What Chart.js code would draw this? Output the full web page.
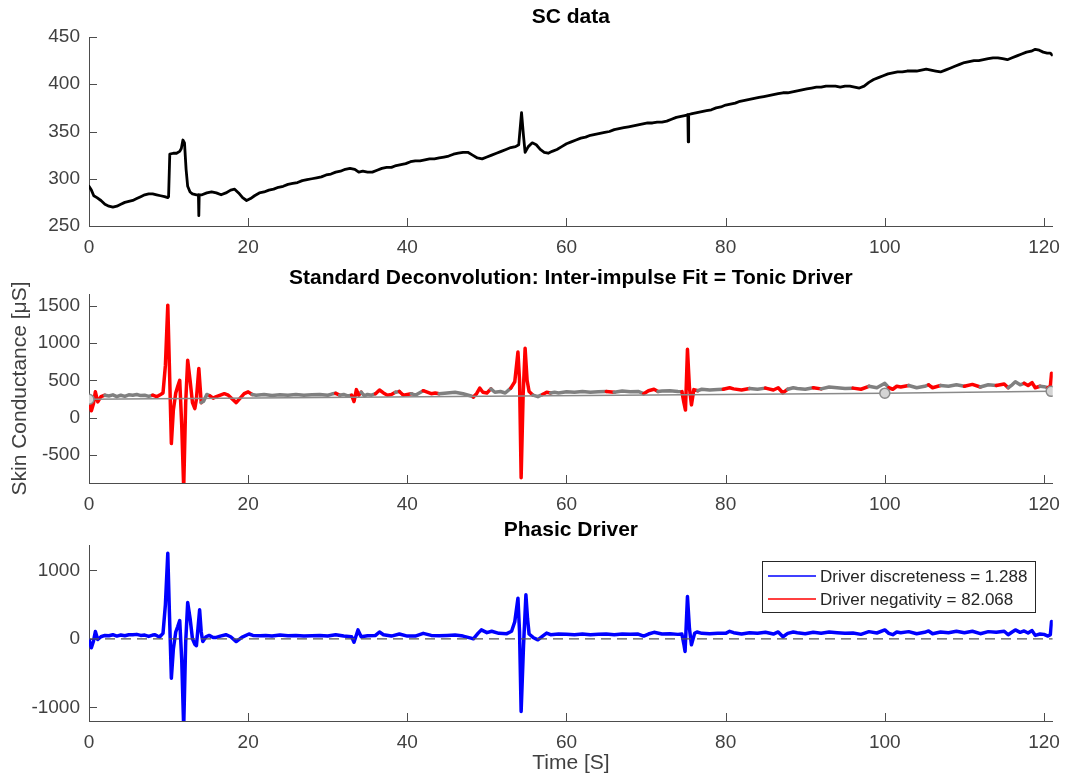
<!DOCTYPE html>
<html>
<head>
<meta charset="utf-8">
<script src="https://cdn.jsdelivr.net/npm/chart.js@4.4.1/dist/chart.umd.min.js"></script>
<style>
  body { margin: 0; background: #fff; }
  canvas { position: absolute; left: 0; }
</style>
</head>
<body>
<canvas id="scChart" width="1070" height="262" style="top:0"></canvas>
<canvas id="tonicChart" width="1070" height="250" style="top:262px"></canvas>
<canvas id="phasicChart" width="1070" height="264" style="top:512px"></canvas>
<script>
// ---- data ----
var timeTicks = [0, 20, 40, 60, 80, 100, 120];
var timeMax = 121.1;

// SC data (top panel)
var scTicks = [250, 300, 350, 400, 450];
var scTime = [
  0, 0.3, 0.6, 1.0, 1.5, 2.0, 2.5, 3.0, 3.5, 4.0,
  4.5, 5.0, 5.5, 6.0, 6.5, 7.0, 7.5, 8.0, 8.5, 9.0,
  9.5, 9.9, 10.0, 10.15, 10.6, 11.0, 11.4, 11.6, 11.8, 12.0,
  12.2, 12.4, 12.7, 13.0, 13.5, 13.75, 13.8, 13.85, 14.2, 14.8,
  15.4, 16.0, 16.6, 17.2, 17.8, 18.3, 18.8, 19.3, 19.8, 20.3,
  20.8, 21.4, 22.0, 22.6, 23.2, 23.8, 24.4, 25.0, 25.6, 26.2,
  26.8, 27.4, 28.0, 28.6, 29.2, 29.8, 30.4, 31.0, 31.6, 32.2,
  32.8, 33.4, 33.9, 34.4, 35.0, 35.6, 36.2, 36.8, 37.4, 38.0,
  38.6, 39.2, 39.8, 40.4, 41.0, 41.6, 42.2, 42.8, 43.4, 44.0,
  44.6, 45.2, 45.8, 46.4, 47.0, 47.6, 48.2, 48.8, 49.4, 50.0,
  50.6, 51.2, 51.8, 52.4, 53.0, 53.6, 54.0, 54.35, 54.6, 54.8,
  55.2, 55.7, 56.2, 56.7, 57.2, 57.7, 58.2, 58.8, 59.4, 60.0,
  60.6, 61.2, 61.8, 62.4, 63.0, 63.6, 64.2, 64.8, 65.4, 66.0,
  66.6, 67.2, 67.8, 68.4, 69.0, 69.6, 70.2, 70.8, 71.4, 72.0,
  72.6, 73.2, 73.8, 74.4, 75.0, 75.25, 75.3, 75.35, 75.8, 76.4,
  77.0, 77.6, 78.2, 78.8, 79.4, 80.0, 80.6, 81.2, 81.8, 82.4,
  83.0, 83.6, 84.2, 84.8, 85.4, 86.0, 86.6, 87.2, 87.8, 88.4,
  89.0, 89.6, 90.2, 90.8, 91.4, 92.0, 92.6, 93.2, 93.8, 94.4,
  95.0, 95.6, 96.2, 96.8, 97.4, 98.0, 98.6, 99.2, 99.8, 100.4,
  101.0, 101.6, 102.2, 102.8, 103.4, 104.0, 104.6, 105.2, 105.8, 106.4,
  107.0, 107.6, 108.2, 108.8, 109.4, 110.0, 110.6, 111.2, 111.8, 112.4,
  113.0, 113.6, 114.2, 114.8, 115.4, 116.0, 116.6, 117.2, 117.8, 118.4,
  118.9, 119.4, 119.9, 120.4, 120.8, 121.0
];
var scValues = [
  292, 288, 282, 280, 277, 273, 271, 270, 271, 273,
  275, 276, 277, 279, 281, 283, 284, 284, 283, 282,
  281, 280, 281, 326, 327, 327, 329, 332, 341, 338,
  310, 292, 286, 284, 283, 283, 261, 283, 283, 285,
  286, 285, 283, 285, 288, 289, 285, 280, 277, 279,
  282, 285, 286, 288, 289, 291, 292, 294, 295, 296,
  298, 299, 300, 301, 302, 304, 305, 307, 308, 310,
  311, 310, 307, 308, 307, 307, 309, 311, 312, 312,
  314, 315, 316, 318, 319, 319, 320, 321, 321, 322,
  323, 324, 326, 327, 328, 328, 325, 322, 321, 323,
  325, 327, 329, 331, 333, 334, 336, 370, 345, 328,
  334, 338, 336, 331, 328, 327, 329, 331, 334, 337,
  339, 341, 343, 344, 346, 347, 348, 349, 350, 352,
  353, 354, 355, 356, 357, 358, 359, 359, 360, 360,
  361, 363, 365, 366, 367, 368, 339, 368, 369, 370,
  371, 372, 373, 375, 376, 378, 379, 380, 382, 383,
  384, 385, 386, 387, 388, 389, 390, 391, 391, 392,
  393, 394, 395, 396, 397, 397, 398, 398, 398, 397,
  398, 398, 397, 396, 398, 402, 405, 407, 409, 411,
  412, 413, 413, 414, 414, 414, 415, 416, 415, 414,
  413, 415, 417, 419, 421, 423, 424, 425, 425, 426,
  427, 428, 428, 427, 426, 428, 430, 432, 434, 435,
  437, 436, 434, 433, 433, 431
];

// Standard deconvolution driver (middle panel)
var driverTicks = [-500, 0, 500, 1000, 1500];
var driverTime = [
  0, 0.3, 0.55, 0.8, 1.1, 1.5, 2.0, 2.5, 3.0, 3.5,
  4.0, 4.5, 5.0, 5.5, 6.0, 6.5, 7.0, 7.5, 8.0, 8.5,
  9.0, 9.3, 9.6, 9.9, 10.1, 10.35, 10.6, 10.9, 11.15, 11.4,
  11.65, 11.9, 12.15, 12.4, 12.7, 13.0, 13.3, 13.5, 13.8, 14.1,
  14.4, 14.8, 15.2, 15.6, 16.0, 16.5, 17.0, 17.5, 18.0, 18.5,
  19.0, 19.5, 20.0, 20.5, 21.0, 22.0, 23.0, 24.0, 25.0, 26.0,
  27.0, 28.0, 29.0, 30.0, 30.5, 31.0, 31.5, 32.0, 32.5, 33.0,
  33.3, 33.6, 33.9, 34.2, 34.6, 35.0, 35.5, 36.0, 36.5, 37.0,
  37.5, 38.0, 38.5, 39.0, 39.5, 40.0, 40.5, 41.0, 41.5, 42.0,
  42.5, 43.0, 43.5, 44.0, 45.0, 46.0, 47.0, 48.0, 48.3, 48.7,
  49.1, 49.5, 50.0, 50.5, 51.0, 51.7, 52.3, 53.0, 53.5, 53.9,
  54.1, 54.3, 54.55, 54.8, 55.05, 55.3, 55.8, 56.4, 57.0, 57.5,
  58.0, 58.5, 59.0, 60.0, 61.0, 62.0, 63.0, 64.0, 65.0, 66.0,
  67.0, 68.0, 69.0, 69.7, 70.3, 71.0, 71.5, 72.0, 73.0, 74.0,
  74.5, 74.75, 74.95, 75.2, 75.45, 75.7, 76.0, 76.5, 77.0, 78.0,
  79.0, 79.7, 80.5, 81.0, 82.0, 83.0, 84.0, 85.0, 86.0, 86.6,
  87.2, 87.8, 88.5, 89.0, 90.0, 91.0, 92.0, 93.0, 94.0, 95.0,
  96.0, 97.0, 98.0, 99.0, 100.0, 100.5, 101.0, 101.5, 102.0, 103.0,
  104.0, 105.0, 105.5, 106.0, 107.0, 108.0, 109.0, 110.0, 111.0, 112.0,
  113.0, 114.0, 115.0, 115.5, 116.0, 116.4, 117.0, 117.5, 118.0, 118.5,
  118.9, 119.5, 120.0, 120.5, 120.8, 120.95
];
var driverValues = [
  240, 90, 180, 345, 210, 280, 300, 290, 305, 280,
  300, 285, 305, 300, 310, 295, 300, 285, 300, 280,
  310, 330, 700, 1510, 700, -350, 100, 330, 420, 500,
  -100, -950, 200, 770, 500, 200, 120, 250, 660, 200,
  220, 310, 290, 260, 280, 300, 320, 300, 250, 200,
  260, 320, 345, 310, 300, 310, 295, 305, 300, 310,
  300, 305, 310, 300, 315, 325, 300, 310, 290, 300,
  215, 375, 300, 340, 290, 310, 300, 320, 370, 330,
  300, 310, 340, 350, 300, 310, 320, 300, 330, 360,
  340, 320, 330, 320, 330, 340, 320, 290, 275, 320,
  395, 340, 330, 385, 340, 350, 330, 395, 480, 880,
  500, -810, 300, 930, 500, 350, 300, 280, 310, 340,
  330, 340, 330, 345, 340, 350, 340, 345, 350, 340,
  355, 345, 350, 320, 360, 380, 350, 355, 360, 350,
  348, 200, 100, 917, 400, 170, 375, 360, 380, 370,
  375, 380, 400, 385, 370, 390, 380, 395, 370, 400,
  330, 380, 400, 390, 380, 400, 385, 410, 400, 390,
  395, 380, 420, 400, 460, 400, 380, 420, 410, 430,
  400, 420, 440, 400, 430, 420, 440, 420, 445, 410,
  440, 430, 450, 400, 440, 480, 440, 460, 430, 470,
  400, 420, 415, 400, 420, 595
];
// stretches of the driver drawn in grey (inter-impulse data), [start, end] in s
var interImpulse = [
  [1.8, 8.0], [14.2, 15.3], [20.5, 30.8], [31.5, 33.0], [34.3, 36.0], [38.3, 38.9],
  [40.3, 41.9], [44.0, 48.2], [50.5, 53.0], [56.0, 57.0], [57.9, 65.1], [65.8, 69.4],
  [71.5, 74.4], [76.5, 79.7], [82.7, 84.8], [88.0, 91.0], [92.3, 95.6], [98.0, 100.6],
  [103.0, 105.5], [107.3, 109.8], [111.8, 113.9], [115.6, 117.6], [119.3, 120.6]
];
// tonic driver fit through the inter-impulse grid points
var tonicTime = [0, 100, 120.9];
var tonicValues = [246, 327, 352];

// Phasic driver (bottom panel)
var phasicTicks = [-1000, 0, 1000];
var phasicTime = [
  0, 0.3, 0.55, 0.8, 1.1, 1.5, 2.0, 2.5, 3.0, 3.5,
  4.0, 4.5, 5.0, 5.5, 6.0, 6.5, 7.0, 7.5, 8.0, 8.3,
  8.6, 8.9, 9.3, 9.6, 9.9, 10.1, 10.35, 10.6, 10.9, 11.15,
  11.4, 11.65, 11.9, 12.15, 12.4, 12.7, 13.0, 13.3, 13.5, 13.9,
  14.1, 14.3, 14.7, 15.1, 15.6, 16.0, 16.5, 17.2, 17.8, 18.5,
  19.2, 20.1, 20.6, 21.5, 22.2, 23.0, 24.0, 25.0, 26.0, 27.0,
  28.0, 29.0, 30.0, 31.0, 32.0, 33.0, 33.3, 33.8, 34.2, 35.0,
  36.0, 36.5, 37.0, 38.0, 39.0, 40.0, 41.0, 42.0, 43.0, 44.0,
  45.0, 46.0, 47.0, 48.0, 48.3, 48.9, 49.3, 50.0, 50.6, 51.5,
  52.5, 53.1, 53.5, 53.9, 54.1, 54.3, 54.6, 54.9, 55.1, 55.3,
  55.8, 56.4, 57.0, 57.5, 58.0, 59.0, 60.0, 61.0, 62.0, 63.0,
  64.0, 65.0, 66.0, 67.0, 68.0, 69.0, 69.7, 70.3, 71.0, 72.0,
  73.0, 74.0, 74.5, 74.75, 74.9, 75.2, 75.45, 75.7, 76.1, 76.4,
  77.0, 78.0, 79.0, 80.0, 80.5, 81.0, 82.0, 83.0, 84.0, 85.0,
  86.0, 86.6, 87.2, 87.8, 88.5, 89.0, 90.0, 91.0, 92.0, 93.0,
  94.0, 95.0, 96.0, 97.0, 98.0, 99.0, 100.0, 100.5, 101.0, 101.5,
  102.0, 103.0, 104.0, 105.0, 105.5, 106.0, 107.0, 108.0, 109.0, 110.0,
  111.0, 112.0, 113.0, 114.0, 115.0, 115.5, 116.0, 116.4, 117.0, 117.5,
  118.0, 118.5, 118.9, 119.5, 120.0, 120.5, 120.8, 120.95
];
var phasicValues = [
  -15, -130, -40, 107, -10, 30, 50, 45, 60, 40,
  55, 45, 60, 60, 65, 50, 55, 35, 55, 60,
  40, 30, 80, 500, 1250, 400, -575, -150, 100, 180,
  267, -300, -1300, -50, 530, 300, 0, -80, -100, 423,
  100, -40, 30, 50, 20, 20, 40, 60, 30, -40,
  20, 70, 50, 45, 50, 40, 55, 45, 50, 40,
  45, 50, 40, 60, 40, 30, -50, 130, 30, 45,
  50, 100, 60, 40, 70, 40, 40, 80, 50, 45,
  50, 55, 40, 10, 0, 83, 131, 90, 110, 80,
  75, 110, 250, 594, 100, -1060, -100, 642, 300, 70,
  20, -15, 40, 83, 60, 70, 65, 60, 70, 60,
  65, 70, 60, 70, 65, 70, 40, 70, 95, 70,
  75, 65, 70, -80, -185, 618, 150, -88, 80, 100,
  80, 75, 80, 80, 110, 90, 70, 90, 80, 95,
  70, 100, 30, 80, 100, 90, 75, 95, 80, 100,
  90, 80, 85, 65, 105, 85, 130, 80, 60, 100,
  90, 105, 75, 95, 115, 75, 100, 90, 110, 90,
  110, 75, 105, 95, 110, 60, 100, 130, 95, 115,
  85, 120, 50, 70, 65, 40, 60, 253
];
var zeroTime = [0, timeMax];
var zeroValues = [0, 0];
var legendLabels = ['Driver discreteness = 1.288', 'Driver negativity = 82.068'];

// ---- styling ----
var FONT = "'Liberation Sans', Arial, Helvetica, sans-serif";
var AXIS = '#4d4d4d';
var TEXT = '#404040';
Chart.defaults.font.family = FONT;
Chart.defaults.animation = false;

function pts(t, v) {
  return t.map(function (x, i) { return { x: x, y: v[i] }; });
}

function inInterImpulse(x) {
  return interImpulse.some(function (w) { return x >= w[0] && x <= w[1]; });
}

// MATLAB style: tick marks point into the axes
var innerTicks = {
  id: 'innerTicks',
  beforeDatasetsDraw: function (chart) {
    var ctx = chart.ctx, area = chart.chartArea, x = chart.scales.x, y = chart.scales.y;
    ctx.save();
    ctx.strokeStyle = AXIS;
    ctx.lineWidth = 1;
    ctx.beginPath();
    x.ticks.forEach(function (t) {
      var px = Math.round(x.getPixelForValue(t.value)) + 0.5;
      ctx.moveTo(px, area.bottom);
      ctx.lineTo(px, area.bottom - 8);
    });
    y.ticks.forEach(function (t) {
      var py = Math.round(y.getPixelForValue(t.value)) + 0.5;
      ctx.moveTo(area.left, py);
      ctx.lineTo(area.left + 8, py);
    });
    ctx.stroke();
    ctx.restore();
  }
};

// boxed legend in the upper right of the plot area
var boxLegend = {
  id: 'boxLegend',
  afterDraw: function (chart) {
    var items = chart.data.datasets.filter(function (d) { return d.label; });
    if (!items.length) return;
    var ctx = chart.ctx, area = chart.chartArea;
    ctx.save();
    ctx.font = '17px ' + FONT;
    var tw = Math.max.apply(null, items.map(function (d) { return ctx.measureText(d.label).width; }));
    var w = Math.round(58 + tw + 8), h = 51;
    var left = Math.round(area.right - 18 - w), top = Math.round(area.top + 16);
    ctx.fillStyle = '#fff';
    ctx.fillRect(left, top, w, h);
    ctx.strokeStyle = '#262626';
    ctx.lineWidth = 1;
    ctx.strokeRect(left + 0.5, top + 0.5, w, h);
    items.forEach(function (d, i) {
      var yy = top + 15 + i * 23;
      ctx.strokeStyle = d.borderColor;
      ctx.lineWidth = 1.5;
      ctx.beginPath();
      ctx.moveTo(left + 6, yy);
      ctx.lineTo(left + 54, yy);
      ctx.stroke();
      ctx.fillStyle = '#262626';
      ctx.textBaseline = 'middle';
      ctx.fillText(d.label, left + 58, yy + 1);
    });
    ctx.restore();
  }
};

function plainLabel(v) { return String(v); }

function timeScale(height, title) {
  return {
    type: 'linear', min: 0, max: timeMax,
    afterBuildTicks: function (s) { s.ticks = timeTicks.map(function (v) { return { value: v }; }); },
    afterFit: function (s) { s.height = height; },
    grid: { display: false, drawTicks: false },
    border: { display: true, color: AXIS, width: 1 },
    ticks: { padding: 10, color: TEXT, font: { size: 19 }, maxRotation: 0, autoSkip: false, callback: plainLabel },
    title: title ? { display: true, text: title, color: TEXT, font: { size: 21 }, padding: { top: 0, bottom: 0 } } : { display: false }
  };
}

function valueScale(min, max, tickList, title) {
  return {
    type: 'linear', min: min, max: max,
    afterBuildTicks: function (s) { s.ticks = tickList.map(function (v) { return { value: v }; }); },
    afterFit: function (s) { s.width = 89; },
    grid: { display: false, drawTicks: false },
    border: { display: true, color: AXIS, width: 1 },
    ticks: { padding: 9, color: TEXT, font: { size: 19 }, callback: plainLabel },
    title: title ? { display: true, text: title, color: TEXT, font: { size: 21 }, padding: { top: 8, bottom: 0 } } : { display: false }
  };
}

function panelOptions(title, padTop, padBottom, xScale, yScale) {
  return {
    responsive: false,
    devicePixelRatio: 1,
    layout: { padding: { left: 0, right: 12, top: 0, bottom: 0 } },
    plugins: {
      legend: { display: false },
      tooltip: { enabled: false },
      title: {
        display: true, text: title, color: '#000', fullSize: false,
        font: { size: 21, weight: 'bold' },
        padding: { top: padTop, bottom: padBottom }
      }
    },
    scales: { x: xScale, y: yScale }
  };
}

// top: raw skin conductance
new Chart('scChart', {
  type: 'line',
  data: {
    datasets: [{
      data: pts(scTime, scValues),
      borderColor: '#000', borderWidth: 2.8, pointRadius: 0, tension: 0,
      borderJoinStyle: 'round', borderCapStyle: 'round'
    }]
  },
  options: panelOptions('SC data', 4.4, 7.4, timeScale(36), valueScale(250, 450, scTicks)),
  plugins: [innerTicks]
});

// middle: driver with inter-impulse fit
new Chart('tonicChart', {
  type: 'line',
  data: {
    datasets: [{
      data: pts(tonicTime, tonicValues),
      borderColor: '#8a8a8a', borderWidth: 1.5, tension: 0,
      pointRadius: 5, pointBackgroundColor: '#d4d4d4', pointBorderColor: '#8a8a8a', pointBorderWidth: 1.5,
      order: 0
    }, {
      data: pts(driverTime, driverValues),
      borderColor: '#ff0000', borderWidth: 3.5, pointRadius: 0, tension: 0,
      borderJoinStyle: 'round', borderCapStyle: 'round',
      segment: {
        borderColor: function (c) {
          return inInterImpulse((c.p0.parsed.x + c.p1.parsed.x) / 2) ? '#808080' : undefined;
        }
      },
      order: 1
    }]
  },
  options: panelOptions('Standard Deconvolution: Inter-impulse Fit = Tonic Driver', 3.4, 3.4,
    timeScale(29), valueScale(-880, 1660, driverTicks, 'Skin Conductance [\u03bcS]')),
  plugins: [innerTicks]
});

// bottom: phasic driver
new Chart('phasicChart', {
  type: 'line',
  data: {
    datasets: [{
      data: pts(zeroTime, zeroValues),
      borderColor: '#555', borderWidth: 1.2, borderDash: [10, 6], pointRadius: 0,
      order: 0
    }, {
      label: legendLabels[0],
      data: pts(phasicTime, phasicValues),
      borderColor: '#0000ff', borderWidth: 3.5, pointRadius: 0, tension: 0,
      borderJoinStyle: 'round', borderCapStyle: 'round',
      order: 1
    }, {
      label: legendLabels[1],
      data: [],
      borderColor: '#ff0000', borderWidth: 1.5, pointRadius: 0,
      order: 2
    }]
  },
  options: panelOptions('Phasic Driver', 5.4, 2.4, timeScale(55, 'Time [S]'), valueScale(-1200, 1370, phasicTicks)),
  plugins: [innerTicks, boxLegend]
});
</script>
</body>
</html>
